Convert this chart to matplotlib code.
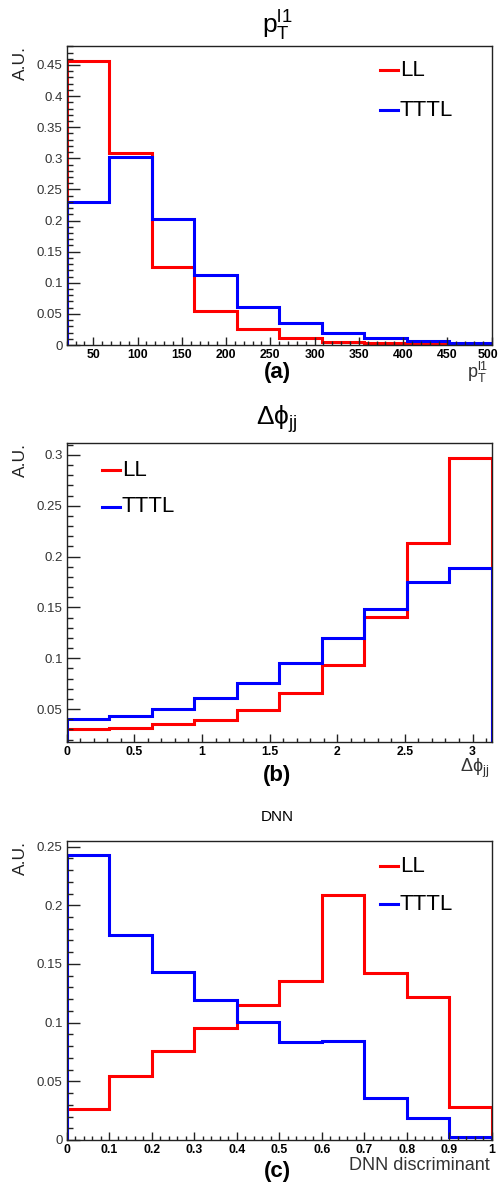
import numpy as np
import matplotlib
matplotlib.use("Agg")
from matplotlib import pyplot as plt
from matplotlib.ticker import MultipleLocator, FuncFormatter

plt.rcParams['font.family'] = ['Liberation Sans', 'DejaVu Sans']
plt.rcParams['mathtext.fontset'] = 'custom'
plt.rcParams['mathtext.rm'] = 'Liberation Sans'
plt.rcParams['mathtext.it'] = 'Liberation Sans:italic'

# (a) leading lepton pT
pt_edges = np.linspace(20, 500, 11)
pt_ll = [0.457, 0.308, 0.126, 0.054, 0.025, 0.012, 0.005, 0.003, 0.002, 0.0015]
pt_tttl = [0.230, 0.302, 0.202, 0.112, 0.061, 0.035, 0.020, 0.012, 0.007, 0.004]

# (b) delta phi jj
dphi_edges = np.linspace(0, np.pi, 11)
dphi_ll = [0.0303, 0.0317, 0.035, 0.0395, 0.0487, 0.0657, 0.0933, 0.141, 0.2138, 0.2967]
dphi_tttl = [0.0402, 0.0434, 0.050, 0.0605, 0.0756, 0.0952, 0.1204, 0.1486, 0.1755, 0.1892]

# (c) DNN discriminant
dnn_edges = np.linspace(0, 1, 11)
dnn_ll = [0.0264, 0.0548, 0.0761, 0.0952, 0.1148, 0.1352, 0.209, 0.142, 0.1222, 0.0278]
dnn_tttl = [0.2426, 0.175, 0.1429, 0.1193, 0.1006, 0.0832, 0.0844, 0.0358, 0.019, 0.0023]

W, H = 499, 1184
fig = plt.figure(figsize=(W / 100, H / 100), dpi=100)


def px(x, y):
    return x / W, 1 - y / H


def make_axes(top, bottom):
    l, b = 66.7 / W, 1 - bottom / H
    return fig.add_axes([l, b, (491.7 - 66.7) / W, (bottom - top) / H])


def style(ax, xmaj, xmin, ymaj, ymin, skip_x=None):
    ax.xaxis.set_major_locator(MultipleLocator(xmaj))
    ax.xaxis.set_minor_locator(MultipleLocator(xmin))
    ax.yaxis.set_major_locator(MultipleLocator(ymaj))
    ax.yaxis.set_minor_locator(MultipleLocator(ymin))
    fmt = FuncFormatter(lambda v, p: '%g' % round(v, 6))
    xfmt = FuncFormatter(lambda v, p: '' if skip_x is not None and abs(v - skip_x) < 1e-9
                         else '%g' % round(v, 6))
    ax.xaxis.set_major_formatter(xfmt)
    ax.yaxis.set_major_formatter(fmt)
    ax.tick_params(axis='both', which='both', direction='in', top=False, right=False,
                   width=1, color='#222222')
    ax.tick_params(axis='y', which='major', length=9, labelsize=9.5, labelcolor='#333333', pad=3)
    ax.tick_params(axis='y', which='minor', length=4.5)
    ax.tick_params(axis='x', which='major', length=6, labelsize=8.8, pad=3)
    ax.tick_params(axis='x', which='minor', length=3)
    for s in ax.spines.values():
        s.set_linewidth(1)
        s.set_color('#222222')
    for lab in ax.get_xticklabels():
        lab.set_fontweight('bold')


def legend(ax, x0, y_ll, y_tttl):
    for y, name, c in [(y_ll, 'LL', 'red'), (y_tttl, 'TTTL', 'blue')]:
        fx0, fy = px(x0, y)
        fx1, _ = px(x0 + 18, y)
        fig.add_artist(plt.Line2D([fx0, fx1], [fy, fy], color=c, lw=2.2,
                                  transform=fig.transFigure))
        fig.text(px(x0 + 20, y)[0], fy, name, fontsize=16, va='center', ha='left')


def ylabel(ax_top):
    fig.text(*px(20, ax_top), 'A.U.', rotation=90, fontsize=12.5,
             ha='center', va='top', color='#222222')


# ---- panel (a)
ax = make_axes(46, 345)
ax.stairs(pt_ll, pt_edges, color='red', lw=2.2)
ax.stairs(pt_tttl, pt_edges, color='blue', lw=2.2)
ax.set_xlim(20, 500)
ax.set_ylim(0, 0.4805)
style(ax, 50, 10, 0.05, 0.01, skip_x=500)
# "500" is drawn a little left of its tick so it stays inside the picture
ax.annotate('500', xy=(500, 0), xycoords=('data', 'axes fraction'),
            xytext=(-4, -4.2), textcoords='offset pixels',
            ha='center', va='top', fontsize=8.8, fontweight='bold')
fig.text(*px(478, 378), r'$\mathregular{p_{T}^{l1}}$', fontsize=13, ha='center', va='baseline', color='#333333')
fig.text(*px(277, 33), r'$\mathregular{p_{T}^{l1}}$', fontsize=19, ha='center', va='baseline')
fig.text(*px(277, 372), '(a)', fontsize=16, fontweight='bold', ha='center', va='center')
legend(ax, 380, 70, 110)
ylabel(46)

# ---- panel (b)
ax = make_axes(442.7, 741.7)
ax.stairs(dphi_ll, dphi_edges, color='red', lw=2.2)
ax.stairs(dphi_tttl, dphi_edges, color='blue', lw=2.2)
ax.set_xlim(0, np.pi)
ax.set_ylim(0.018, 0.312)
style(ax, 0.5, 0.1, 0.05, 0.01)
fig.text(*px(277, 425), r'$\mathregular{\Delta\phi_{jj}}$', fontsize=19, ha='center', va='baseline')
fig.text(*px(475, 772), r'$\mathregular{\Delta\phi_{jj}}$', fontsize=13, ha='center', va='baseline', color='#333333')
fig.text(*px(277, 775), '(b)', fontsize=16, fontweight='bold', ha='center', va='center')
legend(ax, 102, 470, 507)
ylabel(442.7)

# ---- panel (c)
ax = make_axes(841.3, 1140)
ax.stairs(dnn_ll, dnn_edges, color='red', lw=2.2)
ax.stairs(dnn_tttl, dnn_edges, color='blue', lw=2.2)
ax.set_xlim(0, 1)
ax.set_ylim(0, 0.2545)
style(ax, 0.1, 0.02, 0.05, 0.01)
fig.text(*px(277, 817), 'DNN', fontsize=11, ha='center', va='center')
fig.text(*px(490, 1166), 'DNN discriminant', fontsize=13, ha='right', va='center', color='#333333')
fig.text(*px(277, 1171), '(c)', fontsize=16, fontweight='bold', ha='center', va='center')
legend(ax, 380, 866, 904)
ylabel(841.3)

fig.savefig('out.png', dpi=100)
